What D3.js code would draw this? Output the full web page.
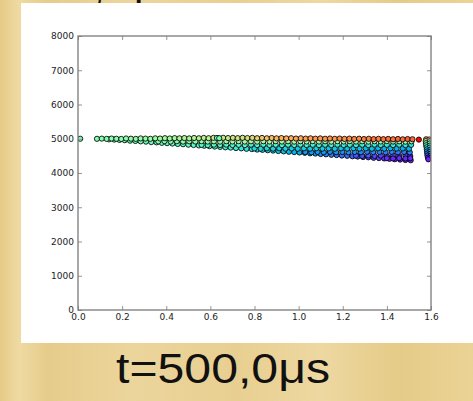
<!DOCTYPE html>
<html>
<head>
<meta charset="utf-8">
<script src="https://cdn.jsdelivr.net/npm/d3@7"></script>
<style>
  html, body { margin: 0; padding: 0; background: #e9d093; }
  svg { display: block; }
  .tick text { font-family: "DejaVu Sans", sans-serif; font-size: 9px; fill: #222; }
</style>
</head>
<body>
<svg id="chart" width="473" height="401"></svg>
<script>
// Axis ticks
const xTicks = [0, 0.2, 0.4, 0.6, 0.8, 1.0, 1.2, 1.4, 1.6];
const yTicks = [0, 1000, 2000, 3000, 4000, 5000, 6000, 7000, 8000];
const caption = "t=500,0μs";

// Particles: [position, value, colour parameter]
const loneParticle = [[0.010, 5000, 0.50]];

const topRow = [
  [0.086,4998,0.50],[0.108,5004,0.51],[0.130,4996,0.50],[0.152,5006,0.52],[0.174,5000,0.51],
  [0.196,4994,0.53],[0.218,5008,0.52],[0.240,5002,0.54],[0.262,4996,0.53],[0.284,5010,0.55],
  [0.306,5004,0.54],[0.328,4998,0.56],[0.350,5012,0.55],[0.372,5006,0.57],[0.394,5016,0.56],
  [0.416,5008,0.58],[0.438,5018,0.57],[0.460,5012,0.59],[0.482,5020,0.60],[0.504,5010,0.58],
  [0.526,5022,0.61],[0.548,5014,0.60],[0.570,5024,0.62],[0.592,5016,0.61],[0.614,5026,0.63],
  [0.636,5018,0.62],[0.658,5028,0.64],[0.680,5020,0.63],[0.702,5026,0.65],[0.724,5018,0.66],
  [0.746,5028,0.65],[0.768,5020,0.67],[0.790,5026,0.68],[0.812,5016,0.70],[0.834,5024,0.71],
  [0.856,5014,0.73],[0.878,5022,0.74],[0.900,5012,0.75],[0.922,5020,0.76],[0.944,5010,0.77],
  [0.966,5016,0.76],[0.988,5006,0.78],[1.010,5014,0.77],[1.032,5004,0.79],[1.054,5012,0.78],
  [1.076,5002,0.80],[1.098,5010,0.79],[1.120,5000,0.80],[1.142,5008,0.81],[1.164,4998,0.80],
  [1.186,5006,0.82],[1.208,4996,0.81],[1.230,5004,0.82],[1.252,4994,0.83],[1.274,5002,0.82],
  [1.296,4992,0.84],[1.318,5000,0.83],[1.340,4990,0.85],[1.362,4998,0.84],[1.384,4988,0.85],
  [1.406,4996,0.86],[1.428,4986,0.85],[1.450,4994,0.87],[1.472,4984,0.86],[1.494,4992,0.88],
  [1.516,4986,0.87],[0.630,5024,0.50],[0.640,5016,0.48]
];

const rowA = [
  [0.364,4922,0.50],[0.392,4930,0.51],[0.420,4918,0.50],[0.448,4928,0.52],[0.476,4916,0.51],
  [0.504,4926,0.53],[0.532,4920,0.52],[0.560,4930,0.54],[0.588,4918,0.53],[0.616,4926,0.55],
  [0.644,4916,0.54],[0.672,4928,0.55],[0.700,4920,0.56],[0.728,4930,0.55],[0.756,4918,0.56],
  [0.784,4926,0.57],[0.812,4916,0.56],[0.840,4928,0.57],[0.868,4920,0.56],[0.896,4930,0.57],
  [0.924,4918,0.56],[0.952,4926,0.57],[0.980,4916,0.56],[1.008,4928,0.57],[1.036,4920,0.56],
  [1.064,4930,0.57],[1.092,4918,0.56],[1.120,4926,0.55],[1.148,4916,0.56],[1.176,4928,0.55],
  [1.204,4920,0.54],[1.232,4930,0.55],[1.260,4918,0.54],[1.288,4926,0.53],[1.316,4916,0.54],
  [1.344,4928,0.53],[1.372,4920,0.52],[1.400,4930,0.53],[1.428,4918,0.52],[1.456,4926,0.51],
  [1.484,4916,0.52],[1.512,4924,0.50]
];

const rowB = [
  [0.560,4822,0.43],[0.588,4814,0.42],[0.616,4826,0.43],[0.644,4816,0.42],[0.672,4828,0.43],
  [0.700,4818,0.42],[0.728,4824,0.43],[0.756,4814,0.42],[0.784,4826,0.41],[0.812,4816,0.42],
  [0.840,4828,0.41],[0.868,4818,0.42],[0.896,4824,0.41],[0.924,4814,0.40],[0.952,4826,0.41],
  [0.980,4816,0.40],[1.008,4828,0.41],[1.036,4818,0.40],[1.064,4824,0.39],[1.092,4814,0.40],
  [1.120,4826,0.39],[1.148,4816,0.40],[1.176,4828,0.39],[1.204,4818,0.38],[1.232,4824,0.39],
  [1.260,4814,0.38],[1.288,4826,0.39],[1.316,4816,0.38],[1.344,4828,0.37],[1.372,4818,0.38],
  [1.400,4824,0.37],[1.428,4814,0.36],[1.456,4826,0.37],[1.484,4816,0.36],[1.510,4822,0.35]
];

const rowC = [
  [0.800,4716,0.32],[0.828,4708,0.31],[0.856,4720,0.32],[0.884,4710,0.31],[0.912,4722,0.30],
  [0.940,4712,0.31],[0.968,4718,0.30],[0.996,4708,0.29],[1.024,4720,0.30],[1.052,4710,0.29],
  [1.080,4722,0.30],[1.108,4712,0.29],[1.136,4718,0.28],[1.164,4708,0.29],[1.192,4720,0.28],
  [1.220,4710,0.27],[1.248,4722,0.28],[1.276,4712,0.27],[1.304,4718,0.26],[1.332,4708,0.27],
  [1.360,4720,0.26],[1.388,4710,0.25],[1.416,4722,0.26],[1.444,4712,0.25],[1.472,4718,0.24],
  [1.500,4708,0.25]
];

const rowD = [
  [1.030,4612,0.21],[1.058,4604,0.20],[1.086,4616,0.21],[1.114,4606,0.20],[1.142,4618,0.19],
  [1.170,4608,0.20],[1.198,4614,0.19],[1.226,4604,0.18],[1.254,4616,0.19],[1.282,4606,0.18],
  [1.310,4618,0.17],[1.338,4608,0.18],[1.366,4614,0.17],[1.394,4604,0.16],[1.422,4616,0.17],
  [1.450,4606,0.16],[1.478,4612,0.15],[1.504,4604,0.16]
];

const rowE = [
  [1.260,4506,0.11],[1.288,4498,0.10],[1.316,4510,0.11],[1.344,4500,0.10],[1.372,4508,0.09],
  [1.400,4498,0.10],[1.428,4506,0.09],[1.456,4496,0.08],[1.484,4504,0.09],[1.506,4494,0.08],
  [1.400,4432,0.06],[1.428,4424,0.05],[1.456,4434,0.06],[1.484,4424,0.05],[1.506,4430,0.05]
];

const lowerEdge = [
  [0.140,4982,0.48],[0.164,4976,0.48],[0.188,4966,0.47],[0.212,4958,0.48],[0.236,4944,0.47],
  [0.260,4936,0.46],[0.284,4924,0.47],[0.308,4916,0.46],[0.332,4902,0.45],[0.356,4894,0.46],
  [0.380,4880,0.45],[0.404,4872,0.44],[0.428,4860,0.45],[0.452,4848,0.44],[0.476,4840,0.43],
  [0.500,4826,0.44],[0.524,4818,0.43],[0.548,4804,0.42],[0.572,4796,0.41],[0.596,4784,0.42],
  [0.620,4772,0.40],[0.644,4762,0.41],[0.668,4750,0.39],[0.692,4742,0.38],[0.716,4728,0.37],
  [0.740,4720,0.36],[0.764,4706,0.35],[0.788,4698,0.34],[0.812,4684,0.33],[0.836,4676,0.32],
  [0.860,4664,0.31],[0.884,4654,0.30],[0.908,4642,0.28],[0.932,4632,0.27],[0.956,4620,0.26],
  [0.980,4610,0.25],[1.004,4598,0.23],[1.028,4590,0.22],[1.052,4576,0.21],[1.076,4568,0.20],
  [1.100,4554,0.18],[1.124,4546,0.17],[1.148,4532,0.16],[1.172,4524,0.15],[1.196,4510,0.14],
  [1.220,4502,0.13],[1.244,4488,0.12],[1.268,4480,0.11],[1.292,4466,0.10],[1.316,4458,0.09],
  [1.340,4444,0.08],[1.364,4436,0.07],[1.388,4424,0.06],[1.412,4414,0.06],[1.436,4402,0.05],
  [1.460,4392,0.05],[1.484,4380,0.04],[1.508,4372,0.04]
];

const wallColumn = [
  [1.578,4985,0.80],[1.592,4978,0.78],[1.576,4930,0.62],[1.594,4925,0.55],[1.577,4870,0.50],
  [1.593,4860,0.47],[1.578,4810,0.42],[1.595,4800,0.40],[1.580,4750,0.36],[1.594,4740,0.34],
  [1.581,4690,0.30],[1.596,4680,0.28],[1.582,4630,0.24],[1.595,4620,0.22],[1.583,4570,0.18],
  [1.596,4560,0.16],[1.584,4510,0.12],[1.597,4500,0.10],[1.586,4450,0.07],[1.597,4440,0.06],
  [1.588,4400,0.04]
];

const frontParticle = [[1.545, 4975, 0.99]];

// Rainbow colour map
function rainbow(t) {
  const r = Math.min(1, Math.abs(2 * t - 0.5));
  const g = Math.sin(Math.PI * t);
  const b = Math.cos(Math.PI * t / 2);
  return d3.rgb(r * 255, g * 255, b * 255).toString();
}

const svg = d3.select("#chart");
const W = 473, H = 401;

// Parchment background
const defs = svg.append("defs");
const grad = defs.append("linearGradient").attr("id", "parchment")
  .attr("x1", "0%").attr("x2", "100%").attr("y1", "0%").attr("y2", "0%");
[["0%", "#e5ca86"], ["4%", "#efdaa3"], ["10%", "#e6cc8b"], ["28%", "#ecd59c"],
 ["50%", "#e8cf91"], ["68%", "#eed8a1"], ["84%", "#e5cb88"], ["100%", "#ebd396"]]
  .forEach(([o, c]) => grad.append("stop").attr("offset", o).attr("stop-color", c));
svg.append("rect").attr("width", W).attr("height", H).attr("fill", "url(#parchment)");

// Title line above the panel
svg.append("text")
  .attr("y", 0)
  .attr("font-family", "Liberation Sans, Arial, sans-serif")
  .attr("font-size", 42).attr("fill", "#111")
  .call(t => {
    t.append("tspan").attr("x", 93).text(",");
    t.append("tspan").attr("x", 134).text("p");
  });

// White figure panel
svg.append("rect").attr("x", 21).attr("y", 3).attr("width", 452).attr("height", 340).attr("fill", "#fff");

const m = { left: 78, right: 431, top: 36, bottom: 310 };
const x = d3.scaleLinear().domain([0, 1.6]).range([m.left, m.right]);
const y = d3.scaleLinear().domain([0, 8000]).range([m.bottom, m.top]);
const color = d3.scaleSequential(rainbow).domain([0, 1]);

defs.append("clipPath").attr("id", "plotclip")
  .append("rect").attr("x", m.left).attr("y", m.top)
  .attr("width", m.right - m.left).attr("height", m.bottom - m.top);

// Scatter
const layers = [lowerEdge, rowE, rowD, rowC, rowB, rowA, topRow, wallColumn, frontParticle, loneParticle];
const pts = svg.append("g").attr("clip-path", "url(#plotclip)");
layers.forEach(layer => {
  pts.append("g").selectAll("circle").data(layer).join("circle")
    .attr("cx", d => x(d[0]))
    .attr("cy", d => y(d[1]))
    .attr("r", 2.6)
    .attr("fill", d => color(d[2]))
    .attr("stroke", "#000")
    .attr("stroke-width", 0.85);
});

// Axes: inward ticks on all four sides
const axisColor = "#7a7a7a";
function styleAxis(g) {
  g.select(".domain").remove();
  g.selectAll(".tick line").attr("stroke", axisColor).attr("stroke-width", 0.8);
}
svg.append("g").attr("transform", `translate(0,${m.bottom})`)
  .call(d3.axisBottom(x).tickValues(xTicks).tickSize(-4).tickPadding(4).tickFormat(d3.format(".1f")))
  .call(styleAxis);
svg.append("g").attr("transform", `translate(0,${m.top})`)
  .call(d3.axisTop(x).tickValues(xTicks).tickSize(-4).tickFormat(""))
  .call(styleAxis);
svg.append("g").attr("transform", `translate(${m.left},0)`)
  .call(d3.axisLeft(y).tickValues(yTicks).tickSize(-4).tickPadding(4).tickFormat(d3.format("d")))
  .call(styleAxis);
svg.append("g").attr("transform", `translate(${m.right},0)`)
  .call(d3.axisRight(y).tickValues(yTicks).tickSize(-4).tickFormat(""))
  .call(styleAxis);
svg.selectAll(".tick text").attr("fill", "#222");

// Frame
svg.append("rect").attr("x", m.left).attr("y", m.top)
  .attr("width", m.right - m.left).attr("height", m.bottom - m.top)
  .attr("fill", "none").attr("stroke", axisColor).attr("stroke-width", 1.3);

// Caption under the panel
svg.append("text")
  .attr("x", 116).attr("y", 383)
  .attr("font-family", "Liberation Sans, Arial, sans-serif")
  .attr("font-size", 42).attr("fill", "#111")
  .attr("textLength", 214).attr("lengthAdjust", "spacingAndGlyphs")
  .text(caption);
</script>
</body>
</html>
